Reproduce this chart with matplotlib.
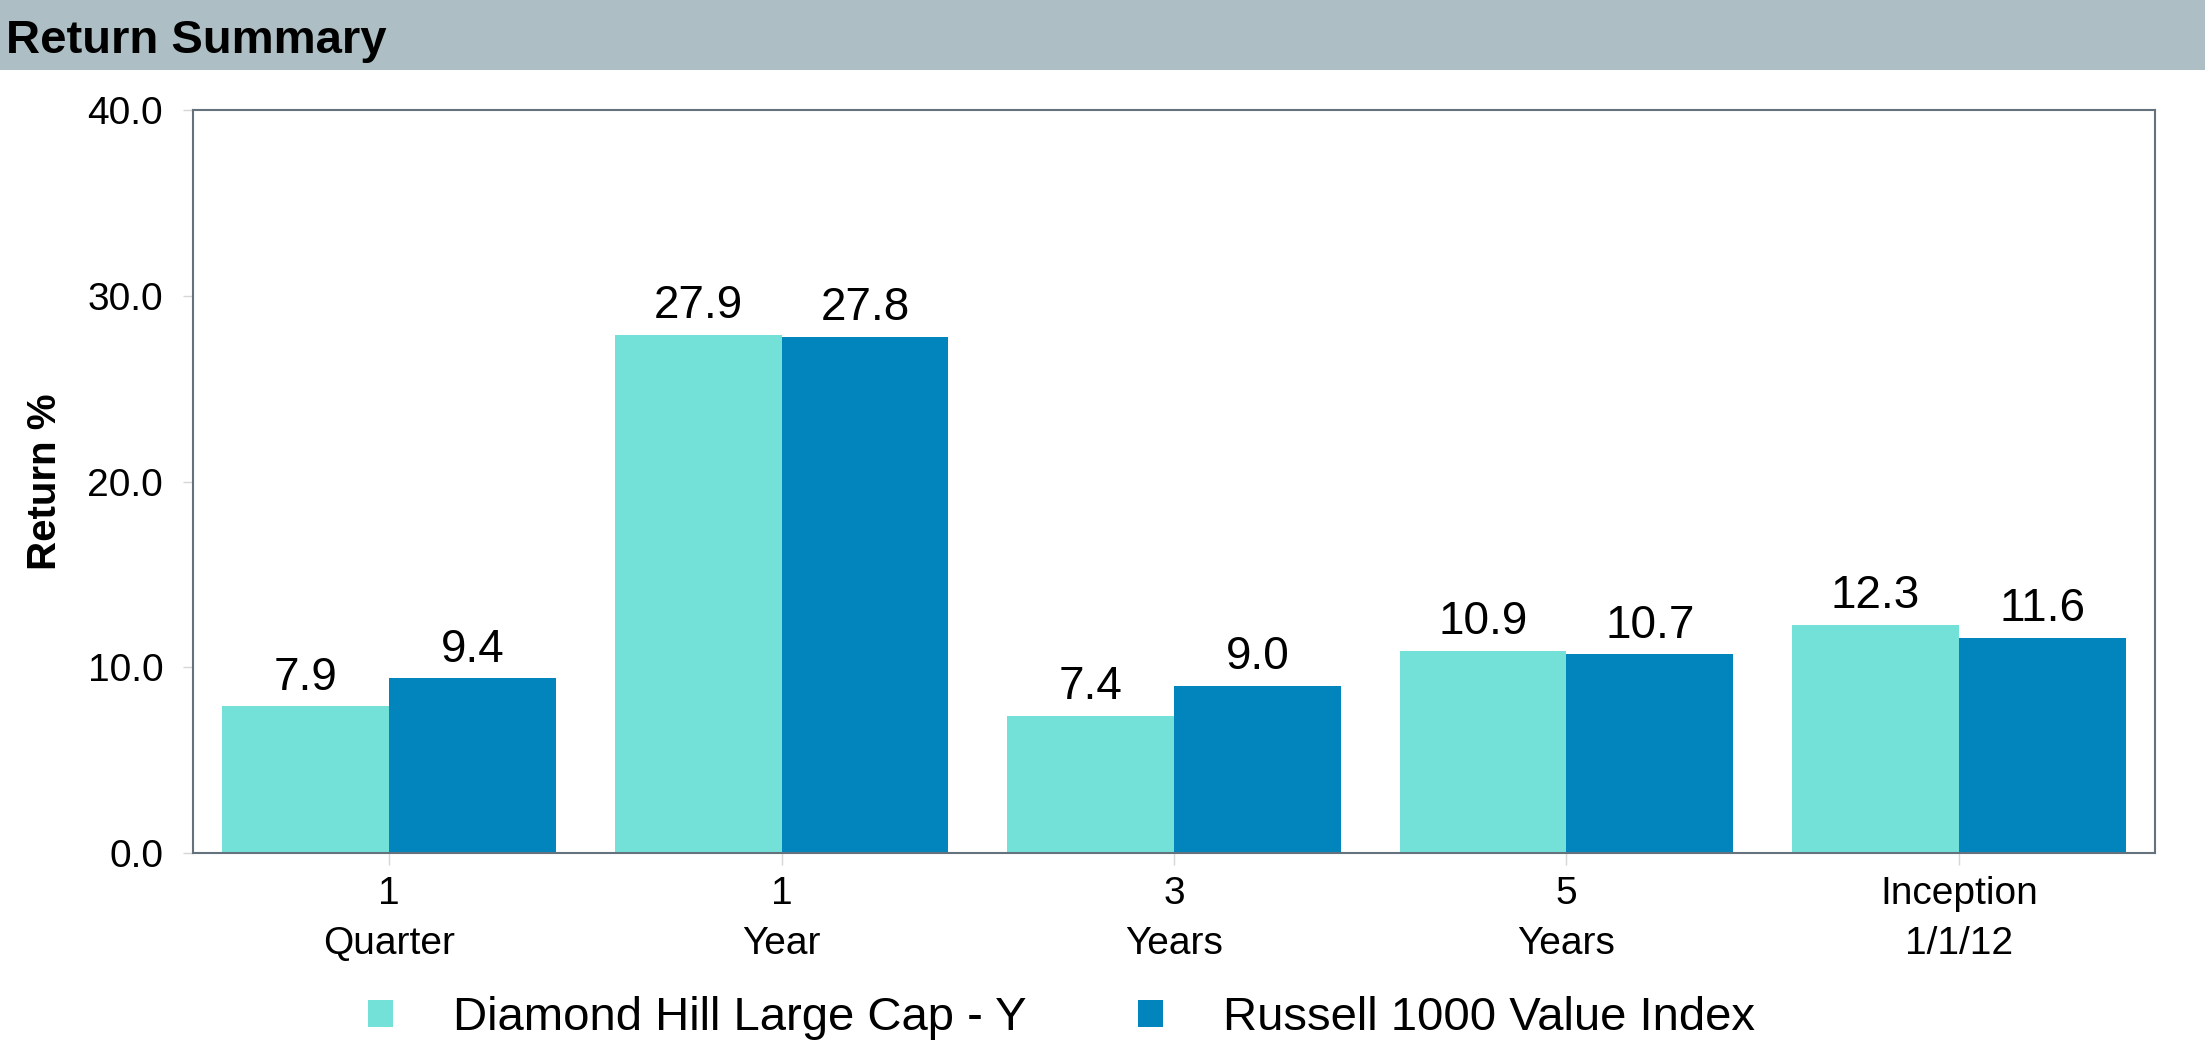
import matplotlib
matplotlib.use("Agg")
import matplotlib.pyplot as plt
import numpy as np
from matplotlib.patches import Rectangle

# Return summary data
periods = ["1\nQuarter", "1\nYear", "3\nYears", "5\nYears", "Inception\n1/1/12"]
diamond_hill = [7.9, 27.9, 7.4, 10.9, 12.3]
russell_1000 = [9.4, 27.8, 9.0, 10.7, 11.6]
series_names = ["Diamond Hill Large Cap - Y", "Russell 1000 Value Index"]
y_ticks = [0, 10, 20, 30, 40]

teal = "#74e1d9"
blue = "#0284bc"
frame_color = "#64727d"
tick_color = "#d6d6d6"

plt.rcParams['font.family'] = ['Liberation Sans', 'DejaVu Sans']

fig = plt.figure(figsize=(22.05, 10.49), dpi=100)
ax = fig.add_axes([193 / 2205, 1 - 853 / 1049, 1962 / 2205, 743 / 1049])

# grey header band with title
fig.patches.append(Rectangle((0, 1 - 70 / 1049), 1, 70 / 1049, transform=fig.transFigure,
                             facecolor="#adbfc4", edgecolor="none", zorder=0))
fig.text(6 / 2205, 1 - 53 / 1049, "Return Summary", fontsize=34, fontweight="bold",
         ha="left", va="baseline")

x = np.arange(len(periods))
w = 0.425
bars1 = ax.bar(x - w / 2, diamond_hill, w, color=teal, label=series_names[0], zorder=2)
bars2 = ax.bar(x + w / 2, russell_1000, w, color=blue, label=series_names[1], zorder=2)

for bars in (bars1, bars2):
    for b in bars:
        ax.annotate(f"{b.get_height():.1f}", (b.get_x() + b.get_width() / 2, b.get_height()),
                    xytext=(0, 12), textcoords="offset points", ha="center", va="baseline",
                    fontsize=33)

ax.set_xlim(-0.5, len(periods) - 0.5)
ax.set_ylim(0, 40)
ax.set_xticks(x)
ax.set_xticklabels(periods, linespacing=1.5)
ax.set_yticks(y_ticks)
ax.set_yticklabels([f"{v:.1f}" for v in y_ticks])
ax.tick_params(axis="x", length=8.6, width=1, color=tick_color, labelsize=28, pad=8)
ax.tick_params(axis="y", length=7.5, width=1, color=tick_color, labelsize=28, pad=14)

for sp in ax.spines.values():
    sp.set_color(frame_color)
    sp.set_linewidth(1.5)

ax.set_ylabel("Return %", fontsize=29, fontweight="bold")
ax.yaxis.set_label_coords(-0.0755, 0.5)
ax.yaxis.label.set_verticalalignment("center")

fig.legend(handles=[bars1, bars2], labels=series_names, loc="center left",
           bbox_to_anchor=(368 / 2205, 1 - 1018 / 1049), ncol=2, frameon=False,
           fontsize=34, handlelength=0.53, handleheight=0.51, handletextpad=1.27,
           columnspacing=2.35, borderpad=0, borderaxespad=0)

fig.savefig("out.png", dpi=100)
